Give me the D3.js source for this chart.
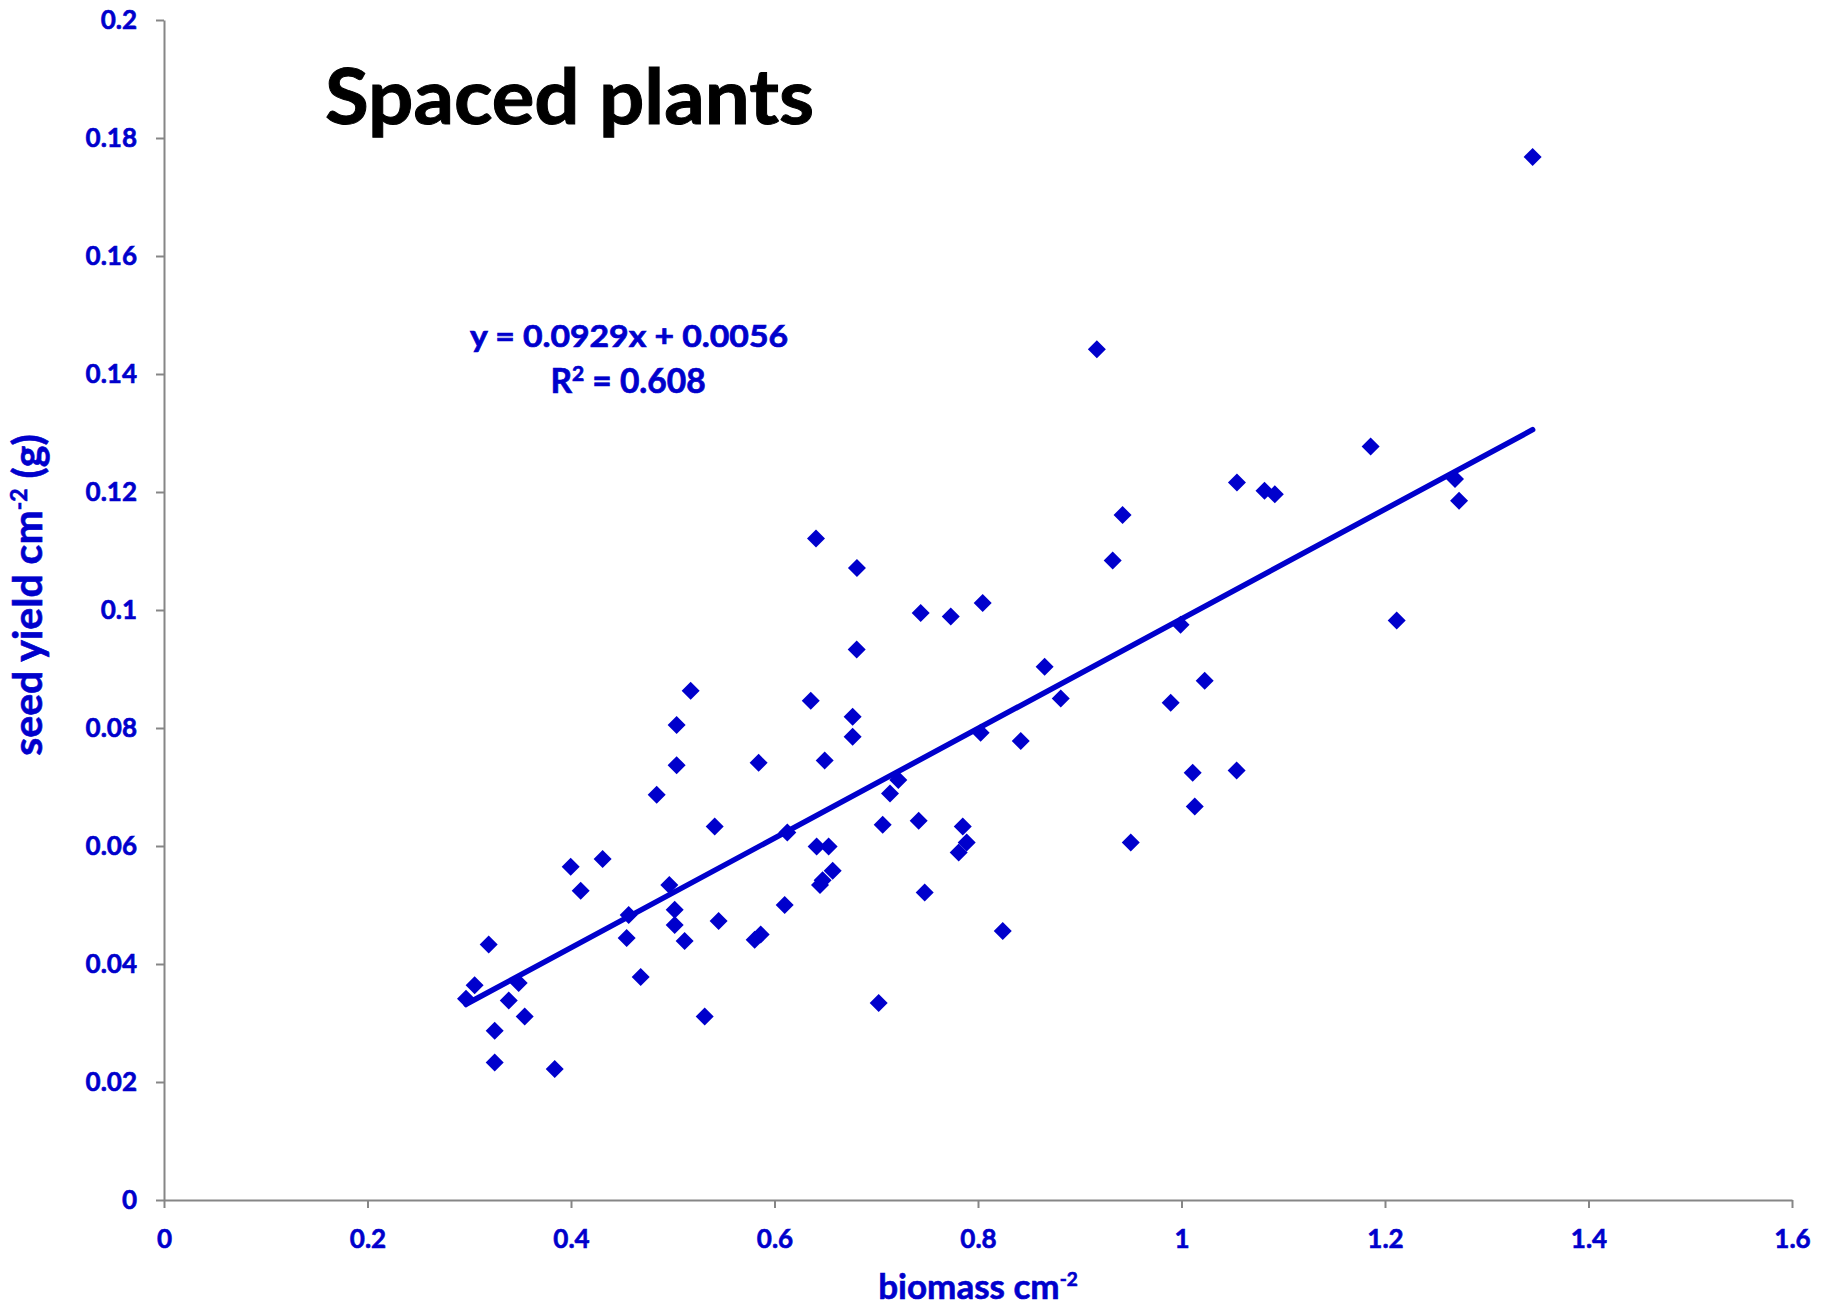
<!DOCTYPE html>
<html><head><meta charset="utf-8">
<script src="https://cdn.jsdelivr.net/npm/d3@7"></script>
<style>
html,body{margin:0;padding:0;background:#fff;}
svg{display:block;font-family:Lato,"Open Sans",sans-serif;font-weight:bold;}
</style>
</head><body>
<svg id="chart" width="1833" height="1308"></svg>
<script>
const biomass = [0.2968,0.3053,0.3191,0.3250,0.3250,0.3388,0.3486,0.3545,0.3840,0.3997,
0.4095,0.4311,0.4547,0.4567,0.4685,0.4842,0.4966,0.5019,0.5019,0.5038,
0.5038,0.5117,0.5176,0.5314,0.5412,0.5451,0.5805,0.5844,0.5864,0.6100,
0.6126,0.6356,0.6408,0.6414,0.6447,0.6473,0.6493,0.6532,0.6572,0.6768,
0.6768,0.6808,0.6810,0.7024,0.7063,0.7135,0.7217,0.7417,0.7437,0.7476,
0.7732,0.7810,0.7850,0.7889,0.8026,0.8046,0.8243,0.8420,0.8655,0.8813,
0.9168,0.9324,0.9421,0.9501,0.9894,0.9991,1.0110,1.0130,1.0228,1.0542,
1.0545,1.0816,1.0917,1.1859,1.2115,1.2688,1.2728,1.3451];
const seedYield = [0.0341,0.0364,0.0433,0.0287,0.0233,0.0338,0.0368,0.0311,0.0222,0.0565,
0.0524,0.0578,0.0444,0.0483,0.0378,0.0687,0.0534,0.0492,0.0466,0.0805,
0.0737,0.0439,0.0863,0.0311,0.0633,0.0473,0.0441,0.0741,0.0450,0.0500,
0.0623,0.0846,0.1121,0.0599,0.0534,0.0542,0.0745,0.0599,0.0558,0.0819,
0.0785,0.0933,0.1071,0.0334,0.0636,0.0689,0.0712,0.0643,0.0995,0.0521,
0.0989,0.0589,0.0633,0.0606,0.0792,0.1012,0.0456,0.0778,0.0904,0.0850,
0.1442,0.1084,0.1161,0.0606,0.0843,0.0975,0.0724,0.0667,0.0880,0.0728,
0.1216,0.1202,0.1196,0.1277,0.0982,0.1222,0.1185,0.1768];
const xTicks = [0,0.2,0.4,0.6,0.8,1.0,1.2,1.4,1.6];
const xTickLabels = ["0","0.2","0.4","0.6","0.8","1","1.2","1.4","1.6"];
const yTicks = [0,0.02,0.04,0.06,0.08,0.10,0.12,0.14,0.16,0.18,0.20];
const yTickLabels = ["0","0.02","0.04","0.06","0.08","0.1","0.12","0.14","0.16","0.18","0.2"];
const trendSlope = 0.0929, trendIntercept = 0.0056, rSquared = "0.608";
const chartTitle = "Spaced plants";
const xTitle = "biomass cm", xTitleSup = "-2";
const yTitle = "seed yield cm", yTitleSup = "-2", yTitleEnd = " (g)";

const blue = "#0000CC", grey = "#868686";
const svg = d3.select("#chart");
const x = d3.scaleLinear().domain([0,1.6]).range([164,1792]);
const y = d3.scaleLinear().domain([0,0.2]).range([1200,20]);

function styleAxis(g){
  g.select(".domain").attr("stroke",grey).attr("stroke-width",2);
  g.selectAll(".tick line").attr("stroke",grey).attr("stroke-width",2);
  g.selectAll(".tick text").attr("fill",blue).attr("font-size",26).attr("font-weight","bold")
    .attr("font-family","Lato, 'Open Sans', sans-serif")
    .attr("stroke",blue).attr("stroke-width",0.6);
}
const gx = svg.append("g").attr("transform","translate(0,1200)")
  .call(d3.axisBottom(x).tickValues(xTicks).tickFormat((d,i)=>xTickLabels[i]).tickSize(8).tickSizeOuter(0).tickPadding(22));
styleAxis(gx);
const gy = svg.append("g").attr("transform","translate(164,0)")
  .call(d3.axisLeft(y).tickValues(yTicks).tickFormat((d,i)=>yTickLabels[i]).tickSize(8).tickSizeOuter(0).tickPadding(19));
styleAxis(gy);

// points
const sym = d3.symbol().type(d3.symbolSquare).size(162);
svg.append("g").selectAll("path").data(biomass).join("path")
  .attr("d",sym)
  .attr("transform",(d,i)=>`translate(${x(d)},${y(seedYield[i])}) rotate(45)`)
  .attr("fill",blue);

// trend line
const xmin = d3.min(biomass), xmax = d3.max(biomass);
svg.append("line")
  .attr("x1",x(xmin)).attr("y1",y(trendSlope*xmin+trendIntercept))
  .attr("x2",x(xmax)).attr("y2",y(trendSlope*xmax+trendIntercept))
  .attr("stroke",blue).attr("stroke-width",5.5).attr("stroke-linecap","round");

// title
svg.append("text").attr("x",325).attr("y",124).attr("font-size",76).attr("fill","#000")
  .attr("stroke","#000").attr("stroke-width",1)
  .attr("textLength",489).attr("lengthAdjust","spacingAndGlyphs").text(chartTitle);

// equation
svg.append("text").attr("x",629).attr("y",347).attr("text-anchor","middle").attr("font-size",31)
  .attr("fill",blue).attr("stroke",blue).attr("stroke-width",0.7)
  .attr("textLength",318).attr("lengthAdjust","spacingAndGlyphs")
  .text(`y = ${trendSlope}x + ${trendIntercept.toFixed(4)}`);
const r2t = svg.append("text").attr("x",628).attr("y",393).attr("text-anchor","middle").attr("font-size",33.5)
  .attr("fill",blue).attr("stroke",blue).attr("stroke-width",0.7);
r2t.append("tspan").text("R");
r2t.append("tspan").attr("font-size",21).attr("dy",-12).text("2");
r2t.append("tspan").attr("dy",12).text(" = " + rSquared);

// axis titles
const xt = svg.append("text").attr("x",978).attr("y",1299).attr("text-anchor","middle").attr("font-size",35)
  .attr("fill",blue).attr("stroke",blue).attr("stroke-width",0.6);
xt.append("tspan").text(xTitle);
xt.append("tspan").attr("font-size",19).attr("dy",-13).text(xTitleSup);

const yt = svg.append("text").attr("transform","translate(42,595) rotate(-90)").attr("text-anchor","middle").attr("font-size",41)
  .attr("fill",blue).attr("stroke",blue).attr("stroke-width",0.6);
yt.append("tspan").text(yTitle);
yt.append("tspan").attr("font-size",23).attr("dy",-15).text(yTitleSup);
yt.append("tspan").attr("dy",15).text(yTitleEnd);
</script>
</body></html>
